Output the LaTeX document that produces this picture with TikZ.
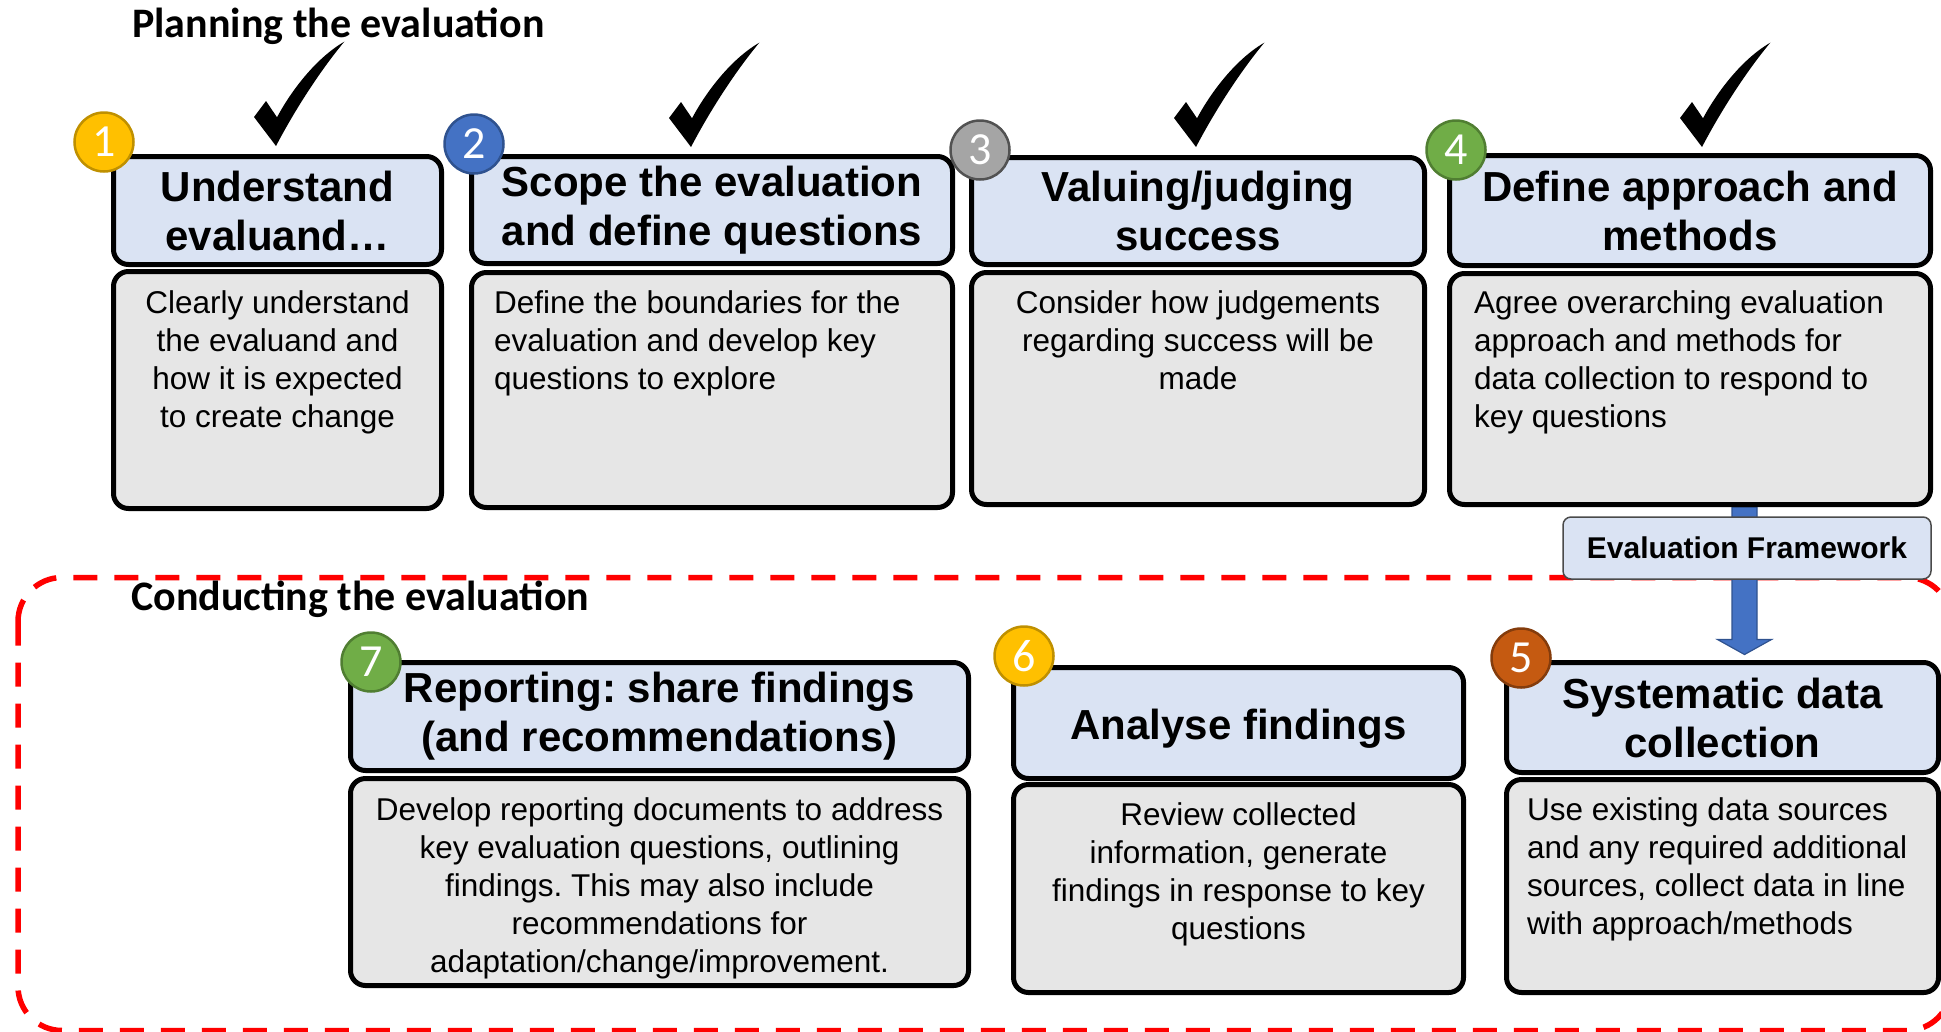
\documentclass[tikz,border=0pt]{standalone}
\usepackage{fontspec}
\setmainfont{Liberation Sans}
\newfontfamily\calib{Carlito}
\usetikzlibrary{calc}
\pgfdeclarelayer{bg}
\pgfsetlayers{bg,main}
\frenchspacing
\definecolor{hdrblue}{HTML}{DAE3F3}
\definecolor{bodygray}{HTML}{E6E6E6}
\definecolor{goldf}{HTML}{FFC000}\definecolor{goldd}{HTML}{BF9000}
\definecolor{bluef}{HTML}{4472C4}\definecolor{blued}{HTML}{2F528F}
\definecolor{grayf}{HTML}{A5A5A5}\definecolor{grayd}{HTML}{525252}
\definecolor{greenf}{HTML}{70AD47}\definecolor{greend}{HTML}{507E32}
\definecolor{orangef}{HTML}{C55A11}\definecolor{oranged}{HTML}{843C0C}
\definecolor{efedge}{HTML}{4A4A4A}
\tikzset{
  hdr/.style={draw=black, line width=5pt, fill=hdrblue, rounded corners=15pt,
    font=\bfseries\fontsize{42}{49}\selectfont, align=center, inner sep=2pt},
  bdy/.style={draw=black, line width=5pt, fill=bodygray, rounded corners=15pt, inner sep=0pt},
  btxt/.style={font=\fontsize{31.5}{38}\selectfont, inner sep=0pt},
  numc/.style={circle, minimum size=59pt, inner sep=0pt, line width=2.5pt, text=white,
    font=\calib\fontsize{46}{46}\selectfont},
  ttl/.style={font=\calib\bfseries\fontsize{42}{50}\selectfont, inner sep=0pt},
  efbox/.style={draw=efedge, line width=1.5pt, fill=hdrblue, rounded corners=8pt,
    font=\bfseries\fontsize{30}{36}\selectfont, minimum width=368pt, minimum height=62pt, inner sep=0pt},
  frame/.style={draw=red, line width=5.5pt, dash pattern=on 24pt off 17pt, rounded corners=44pt},
  arrowsty/.style={fill=bluef, draw=blued, line width=1.2pt},
  chkmark/.pic={
    \fill (0,0) -- (-22,-29) -- (-10,-45) -- (1,-28.7)
      .. controls (15,-55) and (40,-88) .. (68.3,-104.3)
      .. controls (48,-80) and (22,-42) .. (0,0) -- cycle;
  }
}
\begin{document}
\begin{tikzpicture}[x=1pt,y=-1pt]
\useasboundingbox (0,0) rectangle (1941,1031);

% titles
\node[ttl, anchor=base west] (plan) at (132,37) {Planning the evaluation};
\node[ttl, anchor=base west] (cond) at (131,610) {Conducting the evaluation};

% box 1
\node[hdr, minimum width=328pt, minimum height=108pt] (h1) at (277.5,210.5) {Understand\\evaluand…};
\node[bdy, minimum width=328pt, minimum height=237pt] (b1) at (277.5,390) {};
\node[btxt, anchor=north, align=center] (t1) at (277.5,290) {Clearly understand\\the evaluand and\\how it is expected\\to create change};

% box 2
\node[hdr, minimum width=481pt, minimum height=107pt] (h2) at (712,210) {Scope the evaluation\\and define questions};
\node[bdy, minimum width=481pt, minimum height=235pt] (b2) at (712,390) {};
\node[btxt, anchor=north west, align=left] (t2) at (494,290) {Define the boundaries for the\\evaluation and develop key\\questions to explore};

% box 3
\node[hdr, minimum width=453pt, minimum height=107pt] (h3) at (1198,211) {Valuing/judging\\success};
\node[bdy, minimum width=453pt, minimum height=232pt] (b3) at (1198,388.5) {};
\node[btxt, anchor=north, align=center] (t3) at (1198,290) {Consider how judgements\\regarding success will be\\made};

% box 4
\node[hdr, minimum width=481pt, minimum height=110pt] (h4) at (1690,210.5) {Define approach and\\methods};
\node[bdy, minimum width=481pt, minimum height=231pt] (b4) at (1690,389) {};
\node[btxt, anchor=north west, align=left] (t4) at (1474,290) {Agree overarching evaluation\\approach and methods for\\data collection to respond to\\key questions};

% box 7
\node[hdr, minimum width=618pt, minimum height=108pt] (h7) at (659.5,716.5) {Reporting: share findings\\(and recommendations)};
\node[bdy, minimum width=618pt, minimum height=207pt] (b7) at (659.5,882) {};
\node[btxt, anchor=north, align=center] (t7) at (659.5,797) {Develop reporting documents to address\\key evaluation questions, outlining\\findings. This may also include\\recommendations for\\adaptation/change/improvement.};

% box 6
\node[hdr, minimum width=450pt, minimum height=111pt] (h6) at (1238.5,723) {\raisebox{-16pt}[0pt][0pt]{Analyse findings}};
\node[bdy, minimum width=450pt, minimum height=208pt] (b6) at (1238.5,888.5) {};
\node[btxt, anchor=north, align=center] (t6) at (1238.5,802) {Review collected\\information, generate\\findings in response to key\\questions};

% box 5
\node[hdr, minimum width=432pt, minimum height=110pt] (h5) at (1722.5,717.5) {Systematic data\\collection};
\node[bdy, minimum width=432pt, minimum height=213pt] (b5) at (1722.5,886) {};
\node[btxt, anchor=north west, align=left] (t5) at (1527,797) {Use existing data sources\\and any required additional\\sources, collect data in line\\with approach/methods};

% background: frame and arrow
\coordinate (ax) at (1744.5,0);
\begin{pgfonlayer}{bg}
\draw[frame] (18,577.5) rectangle (1951,1030.5);
\filldraw[arrowsty] ($(b4.south -| ax)+(-12.5,0)$) -- ($(h5.north -| ax)+(-12.5,-20.5)$)
  -- ($(h5.north -| ax)+(-27,-20.5)$) -- ($(h5.north -| ax)+(0,-5.5)$)
  -- ($(h5.north -| ax)+(27,-20.5)$) -- ($(h5.north -| ax)+(12.5,-20.5)$)
  -- ($(b4.south -| ax)+(12.5,0)$) -- cycle;
\end{pgfonlayer}

% evaluation framework
\node[efbox] (ef) at (1747,548) {Evaluation Framework};

% number circles
\node[numc, fill=goldf, draw=goldd] (c1) at (104,142) {1};
\node[numc, fill=bluef, draw=blued] (c2) at (474,144) {2};
\node[numc, fill=grayf, draw=grayd] (c3) at (980,150) {3};
\node[numc, fill=greenf, draw=greend] (c4) at (1456,150) {4};
\node[numc, fill=orangef, draw=oranged] (c5) at (1521,658) {5};
\node[numc, fill=goldf, draw=goldd] (c6) at (1024,656) {6};
\node[numc, fill=greenf, draw=greend] (c7) at (371,662) {7};

% check marks
\pic at (276,146) {chkmark};
\pic at (691,147) {chkmark};
\pic at (1196,147) {chkmark};
\pic at (1702,147) {chkmark};
\end{tikzpicture}
\end{document}
